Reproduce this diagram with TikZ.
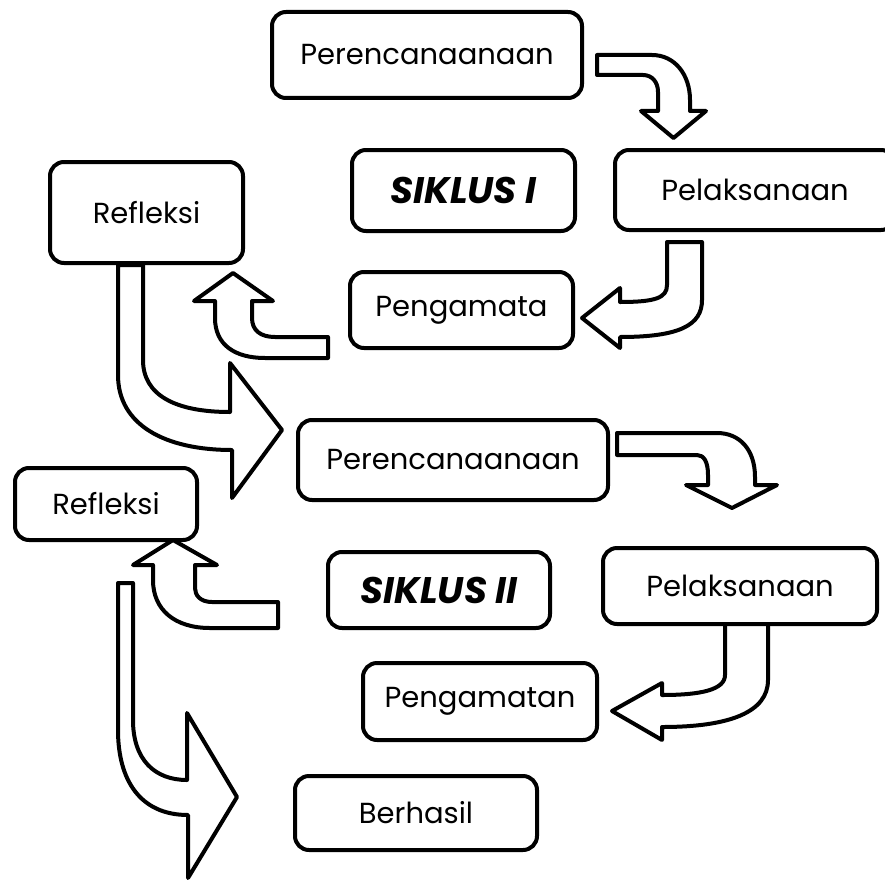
\documentclass[tikz,border=0pt]{standalone}
\usepackage{fontspec}
\setmainfont{Poppins}
\begin{document}
\begin{tikzpicture}[x=1pt,y=-1pt,
  box/.style={draw, line width=4pt, rounded corners=14pt, fill=white, inner sep=0pt, font=\fontsize{29}{33}\selectfont},
  sbox/.style={box, font=\fontsize{37}{40}\selectfont\bfseries\itshape},
  blockarrow/.style={draw, line width=4pt, line join=round, fill=white}]
\useasboundingbox (0,0) rectangle (885,880);

% block arrows
% Perencanaanaan -> Pelaksanaan (I)
\path[blockarrow] (597,55) -- (652,55) .. controls (675,55) and (690,75) .. (690,100) -- (690,111)
  -- (706,111) -- (673.5,138) -- (641,111) -- (658,111) -- (658,92)
  .. controls (658,82) and (652,75) .. (643,75) -- (597,75) -- cycle;
% Pelaksanaan -> Pengamata
\path[blockarrow] (667,242) -- (702,242) -- (702,300) .. controls (702,325) and (680,337) .. (620,337)
  -- (620,348) -- (582,318) -- (620,288) -- (620,302) .. controls (655,302) and (667,298) .. (667,285) -- cycle;
% Pengamata -> Refleksi (I)
\path[blockarrow] (328,337) -- (275,337) .. controls (260,337) and (252,330) .. (252,318) -- (252,301)
  -- (273,301) -- (233,273) -- (194,301) -- (215,301) -- (215,318)
  .. controls (215,345) and (235,358) .. (265,358) -- (328,358) -- cycle;
% Refleksi (I) -> Perencanaanaan (II)
\path[blockarrow] (118,265) -- (143,265) -- (143,360) .. controls (143,395) and (175,412) .. (230,412)
  -- (230,363) -- (282,430) -- (232,498) -- (232,450)
  .. controls (165,450) and (118,425) .. (118,375) -- cycle;
% Perencanaanaan (II) -> Pelaksanaan (II)
\path[blockarrow] (617,433) -- (717,433) .. controls (740,433) and (755,450) .. (755,477) -- (755,485)
  -- (777,485) -- (732,508) -- (686,485) -- (708,485) -- (708,475)
  .. controls (708,462) and (704,455) .. (697,455) -- (617,455) -- cycle;
% Pelaksanaan (II) -> Pengamatan
\path[blockarrow] (725,618) -- (768,618) -- (768,680) .. controls (768,712) and (730,727) .. (662,727)
  -- (662,740) -- (612,711) -- (662,683) -- (662,695) .. controls (700,695) and (725,690) .. (725,675) -- cycle;
% Pengamatan row -> Refleksi (II)
\path[blockarrow] (278,602) -- (212,602) .. controls (200,602) and (195,595) .. (195,588) -- (195,565)
  -- (217,565) -- (173,540) -- (133,565) -- (153,565) -- (153,580)
  .. controls (153,610) and (175,628) .. (210,628) -- (278,628) -- cycle;
% Refleksi (II) -> Berhasil
\path[blockarrow] (118,583) -- (133,583) -- (133,720) .. controls (133,760) and (155,780) .. (187,780)
  -- (187,713) -- (237,797) -- (188,878) -- (188,815)
  .. controls (140,815) and (118,780) .. (118,730) -- cycle;

% boxes
\node[box, minimum width=310pt, minimum height=86pt] (p1) at (427,55) {Perencanaanaan};
\node[sbox, minimum width=223pt, minimum height=81pt] (s1) at (463.5,190.5) {SIKLUS I};
\node[box, minimum width=280pt, minimum height=80pt] (pel1) at (755,190) {Pelaksanaan};
\node[box, minimum width=193pt, minimum height=101pt] (r1) at (146.5,212.5) {Refleksi};
\node[box, minimum width=223pt, minimum height=76pt] (pg1) at (461.5,310) {Pengamata};
\node[box, minimum width=310pt, minimum height=80pt] (p2) at (453,460) {Perencanaanaan};
\node[box, minimum width=182pt, minimum height=72pt] (r2) at (106,504) {Refleksi};
\node[sbox, minimum width=222pt, minimum height=76pt] (s2) at (439,590) {SIKLUS II};
\node[box, minimum width=274pt, minimum height=76pt] (pel2) at (740,586) {Pelaksanaan};
\node[box, minimum width=234pt, minimum height=77pt] (pg2) at (480,701.5) {Pengamatan};
\node[box, minimum width=242pt, minimum height=74pt] (b) at (416,813) {Berhasil};
\end{tikzpicture}
\end{document}
